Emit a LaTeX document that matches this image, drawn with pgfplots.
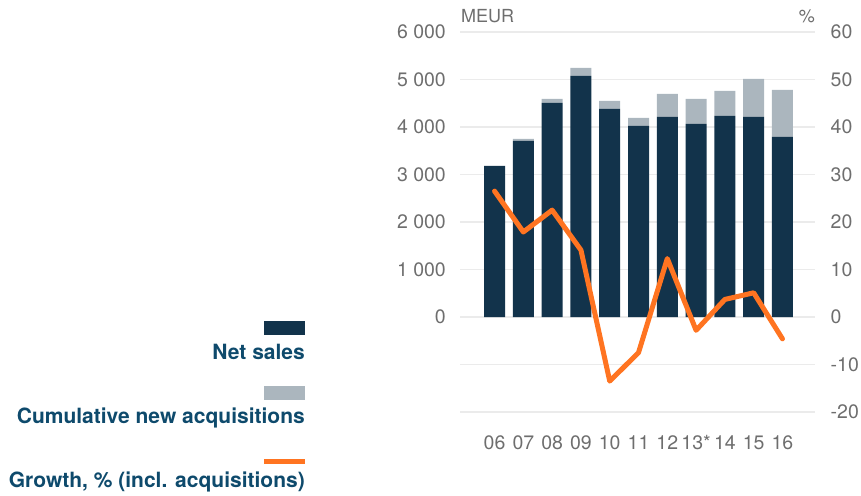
\documentclass[border=0pt]{standalone}
\usepackage{fontspec}
\setmainfont{TeX Gyre Heros}
\usepackage{pgfplots}
\usepackage{pgfplotstable}
\pgfplotsset{compat=1.18}
\definecolor{navy}{HTML}{12334B}
\definecolor{acqgray}{HTML}{ABB6BE}
\definecolor{growth}{HTML}{FF7421}
\definecolor{legtext}{HTML}{0E4A6C}
\definecolor{ticktext}{HTML}{6E6E6E}
\definecolor{gridc}{HTML}{EBEBEB}

% year index, net sales, cumulative acquisitions (MEUR), growth (%)
\pgfplotstableread{
x  net   acq  growth
0  3180  0    26.5
1  3707  43   17.9
2  4507  85   22.5
3  5078  169  14.1
4  4382  168  -13.5
5  4023  169  -7.5
6  4213  485  12.3
7  4065  527  -2.8
8  4234  527  3.7
9  4213  802  5.1
10 3791  991  -4.6
}\salesdata

\pgfplotsset{
  base/.style={
    scale only axis, width=355pt, height=380pt,
    at={(460pt,-412pt)}, anchor=south west,
    xmin=-1.2, xmax=11.13,
    axis line style={draw=none},
    major tick length=0pt,
    tick label style={font=\fontsize{19.5}{19.5}\selectfont, text=ticktext, inner sep=0pt},
  }
}
\newcommand{\legfont}{\bfseries\fontsize{21}{21}\selectfont}

\begin{document}
\begin{tikzpicture}
\useasboundingbox (0,0) rectangle (861pt,-495pt);

\begin{axis}[base,
    ybar stacked, bar width=21pt,
    ymin=-2000, ymax=6000,
    ytick={-2000,-1000,0,1000,2000,3000,4000,5000,6000},
    yticklabels={,,0,1 000,2 000,3 000,4 000,5 000,6 000},
    yticklabel style={anchor=east, xshift=-14pt},
    xtick={0,...,10},
    xticklabels={06,07,08,09,10,11,12,13*,14,15,16},
    xticklabel style={anchor=base, yshift=-37pt},
    ymajorgrids, grid style={gridc, line width=1.5pt},
]
\addplot[fill=navy, draw=none] table[x=x, y=net] {\salesdata};
\addplot[fill=acqgray, draw=none] table[x=x, y=acq] {\salesdata};
\end{axis}

\begin{axis}[base,
    ymin=-20, ymax=60,
    axis y line*=right, axis x line=none,
    ytick={-20,-10,0,10,20,30,40,50,60},
    yticklabels={-20,-10,0,10,20,30,40,50,60},
    yticklabel style={anchor=west, xshift=15.5pt},
]
\addplot[growth, line width=5pt, line cap=round, line join=round, mark=none]
  table[x=x, y=growth] {\salesdata};
\end{axis}

\node[anchor=base west, inner sep=0pt, font=\fontsize{18}{18}\selectfont, text=ticktext] at (461pt,-23pt) {MEUR};
\node[anchor=base east, inner sep=0pt, font=\fontsize{18}{18}\selectfont, text=ticktext] at (815pt,-23pt) {\%};

\fill[navy] (264pt,-321pt) rectangle (305pt,-335pt);
\node[anchor=base east, inner sep=0pt, font=\legfont, text=legtext] at (305pt,-359pt) {Net sales};
\fill[acqgray] (264pt,-386pt) rectangle (305pt,-400pt);
\node[anchor=base east, inner sep=0pt, font=\legfont, text=legtext] at (305pt,-423pt) {Cumulative new acquisitions};
\draw[growth, line width=5pt] (264pt,-461pt) -- (305pt,-461pt);
\node[anchor=base east, inner sep=0pt, font=\legfont, text=legtext] at (305pt,-487pt) {Growth, \% (incl. acquisitions)};
\end{tikzpicture}
\end{document}
